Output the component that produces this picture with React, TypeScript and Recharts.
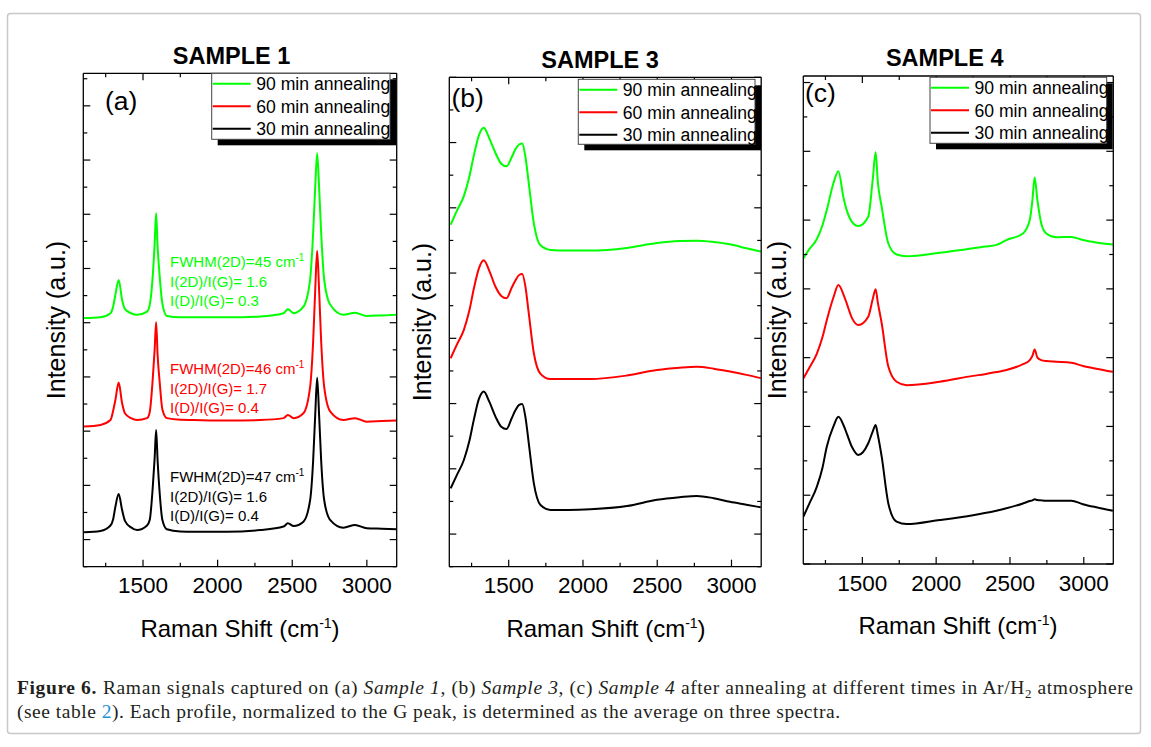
import { LineChart, Line, XAxis, YAxis } from "recharts";

const SANS = "'Liberation Sans', Arial, sans-serif";
const SERIF = "'Liberation Serif', 'Times New Roman', serif";

// series shared by all three panels
const SERIES = [
  { key: "m30", name: "30 min annealing", color: "#000000" },
  { key: "m60", name: "60 min annealing", color: "#ff0000" },
  { key: "m90", name: "90 min annealing", color: "#00ff00" },
];
const LEGEND_ORDER = ["m90", "m60", "m30"];

const X_DOMAIN = [1100, 3200];
const X_TICKS = [1250, 1500, 1750, 2000, 2250, 2500, 2750, 3000];

// ---- Sample 1 (a) ----
const S1_SHIFT = [1105, 1215, 1282, 1300, 1315, 1337, 1360, 1380, 1420, 1460, 1527, 1545, 1565, 1578, 1588, 1598, 1612, 1630, 1660, 1750, 1839, 2063, 2286, 2442, 2471, 2509, 2575, 2620, 2640, 2654, 2667, 2680, 2694, 2714, 2755, 2843, 2921, 2999, 3100, 3200];
const S1_30 = [1.27, 1.32, 1.52, 1.75, 2.21, 2.68, 2.09, 1.68, 1.45, 1.35, 1.52, 1.72, 2.9, 4.0, 5.04, 3.9, 2.7, 1.72, 1.38, 1.3, 1.29, 1.29, 1.35, 1.48, 1.6, 1.5, 1.66, 2.46, 3.9, 5.6, 6.97, 5.6, 3.9, 2.46, 1.72, 1.44, 1.54, 1.42, 1.4, 1.38];
const S1_60 = [5.17, 5.23, 5.41, 5.75, 6.15, 6.79, 6.03, 5.65, 5.48, 5.41, 5.48, 5.7, 6.9, 8.0, 9.02, 7.8, 6.8, 5.8, 5.48, 5.42, 5.41, 5.39, 5.41, 5.48, 5.6, 5.48, 5.66, 6.64, 8.3, 10.2, 11.65, 10.2, 8.3, 6.64, 5.72, 5.41, 5.48, 5.35, 5.37, 5.39];
const S1_90 = [9.17, 9.2, 9.35, 9.6, 10.03, 10.58, 9.84, 9.5, 9.35, 9.29, 9.41, 9.65, 10.7, 11.9, 13.04, 11.8, 10.7, 9.7, 9.25, 9.2, 9.2, 9.2, 9.23, 9.35, 9.5, 9.35, 9.59, 10.6, 12.3, 14.0, 15.25, 14.0, 12.3, 10.6, 9.66, 9.29, 9.37, 9.25, 9.27, 9.29];
const S1_Y_TICKS = [0, 1, 2, 3, 4, 5, 6, 7, 8, 9, 10, 11, 12, 13, 14, 15, 16, 17, 18];

const S1_NOTES = [
  { color: "#00ff00", fwhm: "45", r2d: "1.6", rd: "0.3" },
  { color: "#ff0000", fwhm: "46", r2d: "1.7", rd: "0.4" },
  { color: "#000000", fwhm: "47", r2d: "1.6", rd: "0.4" },
];

// ---- Sample 3 (b) ----
const S3_SHIFT = [1109, 1150, 1198, 1235, 1265, 1300, 1332, 1370, 1411, 1450, 1485, 1520, 1546, 1570, 1591, 1612, 1635, 1669, 1714, 1781, 1900, 2050, 2296, 2498, 2650, 2767, 2880, 2990, 3100, 3197];
const S3_30 = [2.4, 2.8, 3.27, 3.85, 4.5, 5.15, 5.37, 5.05, 4.6, 4.29, 4.22, 4.55, 4.8, 4.96, 4.99, 4.6, 3.79, 2.56, 1.89, 1.74, 1.74, 1.76, 1.86, 2.05, 2.13, 2.17, 2.1, 1.99, 1.9, 1.82];
const S3_60 = [6.39, 6.8, 7.26, 7.85, 8.52, 9.15, 9.39, 9.06, 8.58, 8.3, 8.23, 8.55, 8.78, 8.94, 8.97, 8.6, 7.77, 6.55, 5.91, 5.75, 5.75, 5.75, 5.86, 6.03, 6.1, 6.13, 6.07, 5.98, 5.88, 5.78];
const S3_90 = [10.48, 10.9, 11.36, 11.95, 12.6, 13.23, 13.45, 13.12, 12.68, 12.35, 12.27, 12.55, 12.8, 12.94, 12.97, 12.58, 11.76, 10.53, 9.85, 9.71, 9.69, 9.69, 9.77, 9.92, 9.98, 9.99, 9.95, 9.88, 9.76, 9.66];
const S3_Y_TICKS = [0, 1, 2, 3, 4, 5, 6, 7, 8, 9, 10, 11, 12, 13, 14, 15];

// ---- Sample 4 (c) ----
const S4_SHIFT = [1101, 1140, 1192, 1230, 1259, 1304, 1338, 1371, 1394, 1430, 1473, 1540, 1570, 1590, 1605, 1631, 1676, 1732, 1800, 2025, 2250, 2329, 2408, 2476, 2588, 2634, 2652, 2667, 2686, 2712, 2746, 2814, 2915, 2994, 3084, 3197];
const S4_30 = [1.38, 1.75, 2.25, 2.8, 3.41, 4.0, 4.28, 4.05, 3.8, 3.4, 3.17, 3.51, 3.85, 4.04, 3.75, 3.12, 1.76, 1.23, 1.16, 1.28, 1.42, 1.48, 1.55, 1.62, 1.76, 1.83, 1.85, 1.88, 1.86, 1.85, 1.84, 1.84, 1.84, 1.74, 1.65, 1.55];
const S4_60 = [5.4, 5.7, 6.12, 6.6, 7.09, 7.75, 8.11, 7.85, 7.58, 7.15, 6.95, 7.19, 7.7, 7.99, 7.6, 7.0, 5.74, 5.3, 5.2, 5.3, 5.47, 5.52, 5.58, 5.64, 5.81, 5.93, 6.05, 6.24, 6.0, 5.93, 5.9, 5.88, 5.85, 5.76, 5.68, 5.59];
const S4_90 = [8.89, 9.15, 9.45, 9.85, 10.29, 11.07, 11.42, 10.68, 10.29, 9.95, 9.83, 10.1, 11.16, 11.97, 11.1, 10.39, 9.32, 9.0, 8.95, 9.05, 9.18, 9.23, 9.28, 9.42, 9.61, 10.0, 10.58, 11.24, 10.58, 9.9, 9.61, 9.5, 9.51, 9.42, 9.35, 9.29];
const S4_Y_TICKS = [0, 1, 2, 3, 4, 5, 6, 7, 8, 9, 10, 11, 12, 13, 14];

const toRows = (shift: number[], m30: number[], m60: number[], m90: number[]) =>
  shift.map((x, i) => ({ x, m30: m30[i], m60: m60[i], m90: m90[i] }));

// layout of each panel (page pixels)
const PANELS = [
  {
    id: "a", title: "SAMPLE 1", letter: "(a)",
    rows: toRows(S1_SHIFT, S1_30, S1_60, S1_90), yMax: 18.2, yTicks: S1_Y_TICKS, oddMajor: true,
    left: 0, w: 400, h: 700, pl: 83.3, pt: 73.3, pr: 396.7, pb: 566.7,
    titleX: 231.5, titleY: 64, letterX: 105, letterY: 110,
    yLabX: 65, yLabY: 320, xLabX: 240, xLabY: 637,
    legend: { x: 211.7, y: 73.3, w: 178.3, h: 66 },
  },
  {
    id: "b", title: "SAMPLE 3", letter: "(b)",
    rows: toRows(S3_SHIFT, S3_30, S3_60, S3_90), yMax: 15.0, yTicks: S3_Y_TICKS, oddMajor: true,
    left: 400, w: 370, h: 700, pl: 449.3, pt: 77.3, pr: 761.2, pb: 566.7,
    titleX: 600, titleY: 68, letterX: 451.5, letterY: 107,
    yLabX: 431, yLabY: 322, xLabX: 606, xLabY: 637,
    legend: { x: 578.3, y: 79.3, w: 176.7, h: 65 },
  },
  {
    id: "c", title: "SAMPLE 4", letter: "(c)",
    rows: toRows(S4_SHIFT, S4_30, S4_60, S4_90), yMax: 14.19, yTicks: S4_Y_TICKS, oddMajor: false,
    left: 770, w: 381, h: 700, pl: 803.3, pt: 76, pr: 1113.3, pb: 564,
    titleX: 944.7, titleY: 65.5, letterX: 805, letterY: 102,
    yLabX: 786, yLabY: 320, xLabX: 958, xLabY: 634,
    legend: { x: 930, y: 77.3, w: 176.7, h: 66 },
  },
];

const AXIS_LINE = { stroke: "#000", strokeWidth: 1.3 };
const AX = 1; // thickness reserved for each axis

function BottomTick(p: any) {
  const major = p.payload.value % 500 === 0;
  return (
    <g>
      <line x1={p.x} x2={p.x} y1={p.y} y2={p.y - (major ? 7 : 4)} stroke="#000" strokeWidth={1.2} />
      {major && (
        <text x={p.x} y={p.y + 26.5} textAnchor="middle" fontFamily={SANS} fontSize={22.5} fill="#000">
          {p.payload.value}
        </text>
      )}
    </g>
  );
}

function TopTick(p: any) {
  const major = p.payload.value % 500 === 0;
  return <line x1={p.x} x2={p.x} y1={p.y} y2={p.y + (major ? 7 : 4)} stroke="#000" strokeWidth={1.2} />;
}

function SideTick(p: any) {
  const odd = Math.round(p.payload.value) % 2 === 1;
  const major = p.oddMajor ? odd : !odd;
  const len = major ? 7 : 4;
  return <line x1={p.x} x2={p.x + p.dir * len} y1={p.y} y2={p.y} stroke="#000" strokeWidth={1.2} />;
}

function Panel({ cfg }: { cfg: any }) {
  const margin = {
    top: cfg.pt - AX,
    left: cfg.pl - cfg.left - AX,
    right: cfg.left + cfg.w - cfg.pr - AX,
    bottom: cfg.h - cfg.pb - AX,
  };
  return (
    <div style={{ position: "absolute", left: cfg.left, top: 0 }}>
      <LineChart width={cfg.w} height={cfg.h} data={cfg.rows} margin={margin}>
        <XAxis xAxisId="b" dataKey="x" type="number" domain={X_DOMAIN} ticks={X_TICKS} interval={0}
          allowDataOverflow height={AX} tickSize={0} tickMargin={0} tickLine={false} axisLine={AXIS_LINE}
          tick={(p: any) => <BottomTick {...p} />} />
        <XAxis xAxisId="t" orientation="top" dataKey="x" type="number" domain={X_DOMAIN} ticks={X_TICKS} interval={0}
          allowDataOverflow height={AX} tickSize={0} tickMargin={0} tickLine={false} axisLine={AXIS_LINE}
          tick={(p: any) => <TopTick {...p} />} />
        <YAxis yAxisId="l" type="number" domain={[0, cfg.yMax]} ticks={cfg.yTicks} interval={0}
          allowDataOverflow width={AX} tickSize={0} tickMargin={0} tickLine={false} axisLine={AXIS_LINE}
          tick={(p: any) => <SideTick {...p} dir={1} oddMajor={cfg.oddMajor} />} />
        <YAxis yAxisId="r" orientation="right" type="number" domain={[0, cfg.yMax]} ticks={cfg.yTicks} interval={0}
          allowDataOverflow width={AX} tickSize={0} tickMargin={0} tickLine={false} axisLine={AXIS_LINE}
          tick={(p: any) => <SideTick {...p} dir={-1} oddMajor={cfg.oddMajor} />} />
        {SERIES.map((s) => (
          <Line key={s.key} xAxisId="b" yAxisId="l" type="monotone" dataKey={s.key} name={s.name}
            stroke={s.color} strokeWidth={2} dot={false} activeDot={false} isAnimationActive={false} />
        ))}
      </LineChart>
    </div>
  );
}

function LegendBox({ box }: { box: { x: number; y: number; w: number; h: number } }) {
  return (
    <g>
      <rect x={box.x + 6} y={box.y + 6} width={box.w} height={box.h} fill="#000" />
      <rect x={box.x} y={box.y} width={box.w} height={box.h} fill="#fff" stroke="#444" strokeWidth={1} />
      {LEGEND_ORDER.map((k, i) => {
        const s = SERIES.find((d) => d.key === k)!;
        const cy = box.y + 10.5 + i * 22.5;
        return (
          <g key={k}>
            <line x1={box.x + 1} x2={box.x + 39} y1={cy} y2={cy} stroke={s.color} strokeWidth={2} />
            <text x={box.x + 44.5} y={cy + 6.3} fontFamily={SANS} fontSize={17.6} fill="#000">{s.name}</text>
          </g>
        );
      })}
    </g>
  );
}

function Overlay() {
  return (
    <svg width={1151} height={747} style={{ position: "absolute", left: 0, top: 0, pointerEvents: "none" }}>
      <rect x={7.5} y={13.5} width={1133} height={720} rx={3} fill="none" stroke="#c8c8c8" strokeWidth={1.5} />
      {PANELS.map((p) => (
        <g key={p.id}>
          <text x={p.titleX} y={p.titleY} textAnchor="middle" fontFamily={SANS} fontWeight="bold" fontSize={23.5} fill="#000">{p.title}</text>
          <text x={p.letterX} y={p.letterY} fontFamily={SANS} fontSize={26.5} fill="#000">{p.letter}</text>
          <text x={p.yLabX} y={p.yLabY} transform={`rotate(-90 ${p.yLabX} ${p.yLabY})`} textAnchor="middle"
            fontFamily={SANS} fontSize={25} fill="#000">Intensity (a.u.)</text>
          <text x={p.xLabX} y={p.xLabY} textAnchor="middle" fontFamily={SANS} fontSize={24} fill="#000">
            Raman Shift (cm<tspan dy={-9} fontSize={14}>-1</tspan><tspan dy={9}>)</tspan>
          </text>
          <LegendBox box={p.legend} />
        </g>
      ))}
      {S1_NOTES.map((n, i) => {
        const base = [267, 374, 482][i];
        return (
          <g key={i} fontFamily={SANS} fontSize={15} fill={n.color}>
            <text x={170} y={base}>FWHM(2D)={n.fwhm} cm<tspan dy={-6} fontSize={10}>-1</tspan></text>
            <text x={170} y={base + 19.7}>I(2D)/I(G)= {n.r2d}</text>
            <text x={170} y={base + 38.8}>I(D)/I(G)= {n.rd}</text>
          </g>
        );
      })}
      <g fontFamily={SERIF} fontSize={19.5} fill="#231f20">
        <text x={17} y={694} textLength={1116} lengthAdjust="spacing">
          <tspan fontWeight="bold">Figure 6.</tspan>
          <tspan dx={6}>Raman signals captured on (a) </tspan>
          <tspan fontStyle="italic">Sample 1</tspan>
          <tspan>, (b) </tspan>
          <tspan fontStyle="italic">Sample 3</tspan>
          <tspan>, (c) </tspan>
          <tspan fontStyle="italic">Sample 4</tspan>
          <tspan> after annealing at different times in Ar/H</tspan>
          <tspan dy={4} fontSize={13}>2</tspan>
          <tspan dy={-4}> atmosphere</tspan>
        </text>
        <text x={17} y={718} textLength={823} lengthAdjust="spacing">
          <tspan>(see table </tspan>
          <tspan fill="#1f8fd6">2</tspan>
          <tspan>). Each profile, normalized to the G peak, is determined as the average on three spectra.</tspan>
        </text>
      </g>
    </svg>
  );
}

export default function App() {
  return (
    <div style={{ position: "absolute", left: 0, top: 0, width: 1151, height: 747, background: "#fff", overflow: "hidden" }}>
      {PANELS.map((p) => (
        <Panel key={p.id} cfg={p} />
      ))}
      <Overlay />
    </div>
  );
}
